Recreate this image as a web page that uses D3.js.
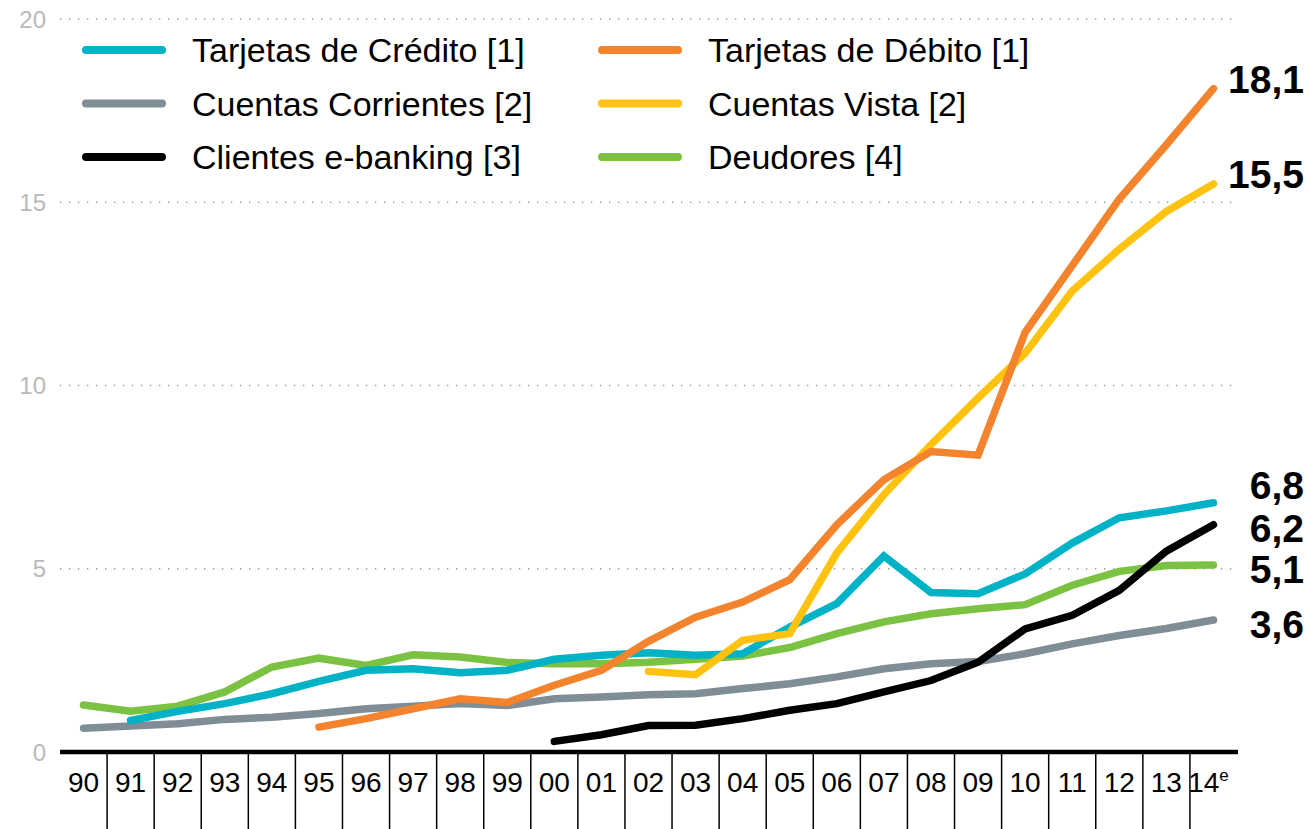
<!DOCTYPE html>
<html>
<head>
<meta charset="utf-8">
<script src="https://cdn.jsdelivr.net/npm/d3@7"></script>
<style>
  body { margin: 0; background: #fff; }
  svg { display: block; font-family: "Liberation Sans", Arial, sans-serif; }
</style>
</head>
<body>
<div id="chart"></div>
<script>
const years = ["90","91","92","93","94","95","96","97","98","99","00","01","02","03","04","05","06","07","08","09","10","11","12","13","14"];
const yTicks = [0, 5, 10, 15, 20];

// null = sin dato
const credito  = [null,0.86,1.11,1.32,1.59,1.93,2.23,2.27,2.16,2.23,2.53,2.64,2.71,2.64,2.68,3.41,4.05,5.35,4.35,4.32,4.86,5.7,6.39,6.58,6.8];
const debito   = [null,null,null,null,null,0.68,0.91,1.18,1.45,1.35,1.82,2.23,3.02,3.68,4.09,4.7,6.2,7.43,8.2,8.1,11.45,13.27,15.09,16.57,18.1];
const corrientes = [0.65,0.71,0.77,0.89,0.95,1.05,1.18,1.25,1.32,1.27,1.45,1.5,1.56,1.59,1.73,1.86,2.05,2.27,2.41,2.47,2.68,2.95,3.18,3.37,3.6];
const vista    = [null,null,null,null,null,null,null,null,null,null,null,null,2.2,2.11,3.05,3.23,5.43,7.02,8.39,9.66,10.88,12.58,13.72,14.75,15.5];
const ebanking = [null,null,null,null,null,null,null,null,null,null,0.29,0.47,0.72,0.73,0.91,1.14,1.32,1.64,1.95,2.45,3.36,3.73,4.41,5.48,6.2];
const deudores = [1.28,1.11,1.25,1.64,2.32,2.56,2.36,2.65,2.59,2.44,2.41,2.41,2.45,2.53,2.62,2.85,3.23,3.55,3.77,3.91,4.02,4.55,4.93,5.09,5.1];

const endLabels = ["18,1","15,5","6,8","6,2","5,1","3,6"];
const endLabelY = [18.1, 15.5, 6.8, 6.2, 5.1, 3.6];

const series = [
  { name: "Cuentas Corrientes [2]", values: corrientes, color: "#7f8d96" },
  { name: "Deudores [4]", values: deudores, color: "#7cc242" },
  { name: "Tarjetas de Crédito [1]", values: credito, color: "#00b2c6" },
  { name: "Cuentas Vista [2]", values: vista, color: "#ffc20f" },
  { name: "Tarjetas de Débito [1]", values: debito, color: "#f4832e" },
  { name: "Clientes e-banking [3]", values: ebanking, color: "#000000" }
];
const legendOrder = [
  "Tarjetas de Crédito [1]", "Tarjetas de Débito [1]",
  "Cuentas Corrientes [2]", "Cuentas Vista [2]",
  "Clientes e-banking [3]", "Deudores [4]"
];

const W = 1310, H = 829;
const svg = d3.select("#chart").append("svg")
  .attr("width", W).attr("height", H);

const x = d3.scaleBand().domain(years).range([60, 1237]).padding(0);
const y = d3.scaleLinear().domain([0, 20]).range([752, 19]);

// dotted grid
svg.append("g")
  .selectAll("line")
  .data(yTicks.filter(d => d > 0))
  .join("line")
  .attr("x1", 60).attr("x2", 1238)
  .attr("y1", d => y(d)).attr("y2", d => y(d))
  .attr("stroke", "#9a9a9a")
  .attr("stroke-width", 1.3)
  .attr("stroke-dasharray", "1.3,7.7");

// y labels
svg.append("g")
  .selectAll("text")
  .data(yTicks)
  .join("text")
  .attr("x", 46)
  .attr("y", d => y(d))
  .attr("dy", "0.36em")
  .attr("text-anchor", "end")
  .attr("fill", "#b9b9b9")
  .style("font-size", "24px")
  .text(d => d);

// x axis
const xAxis = svg.append("g").attr("transform", "translate(0,752)");
xAxis.append("line")
  .attr("x1", 60).attr("x2", 1238)
  .attr("stroke", "#000").attr("stroke-width", 4.5);

xAxis.selectAll(".sep")
  .data(years.slice(1))
  .join("line")
  .attr("class", "sep")
  .attr("x1", d => x(d)).attr("x2", d => x(d))
  .attr("y1", 0).attr("y2", 80)
  .attr("stroke", "#000").attr("stroke-width", 1.5);

const xl = xAxis.selectAll(".lab")
  .data(years)
  .join("text")
  .attr("class", "lab")
  .attr("x", d => x(d) + x.bandwidth() / 2 + (d === "14" ? -5 : 0))
  .attr("y", 40)
  .attr("text-anchor", "middle")
  .style("font-size", "28px")
  .attr("fill", "#000")
  .text(d => d);
xl.filter(d => d === "14").append("tspan")
  .attr("dy", -11)
  .style("font-size", "17px")
  .text("e");

// lines
const line = d3.line()
  .defined(d => d != null)
  .x((d, i) => x(years[i]) + x.bandwidth() / 2)
  .y(d => y(d));

svg.append("g")
  .selectAll("path")
  .data(series)
  .join("path")
  .attr("fill", "none")
  .attr("stroke", d => d.color)
  .attr("stroke-width", 7.5)
  .attr("stroke-linejoin", "miter")
  .attr("stroke-linecap", "round")
  .attr("d", d => line(d.values));

// end labels
svg.append("g")
  .selectAll("text")
  .data(endLabels)
  .join("text")
  .attr("x", 1304)
  .attr("y", (d, i) => y(endLabelY[i]))
  .attr("dy", (d, i) => [0.1, 0.1, -0.1, 0.45, 0.45, 0.45][i] + "em")
  .attr("text-anchor", "end")
  .style("font-size", "39px")
  .style("font-weight", "bold")
  .attr("fill", "#000")
  .text(d => d);

// legend
const colorOf = name => series.find(s => s.name === name).color;
const leg = svg.append("g")
  .selectAll("g")
  .data(legendOrder)
  .join("g")
  .attr("transform", (d, i) => `translate(${i % 2 === 0 ? 86 : 602},${50 + Math.floor(i / 2) * 53.5})`);
leg.append("line")
  .attr("x1", 0).attr("x2", 76)
  .attr("stroke", d => colorOf(d))
  .attr("stroke-width", 8)
  .attr("stroke-linecap", "round");
leg.append("text")
  .attr("x", 106)
  .attr("dy", "0.36em")
  .style("font-size", "34px")
  .attr("fill", "#000")
  .text(d => d);
</script>
</body>
</html>
